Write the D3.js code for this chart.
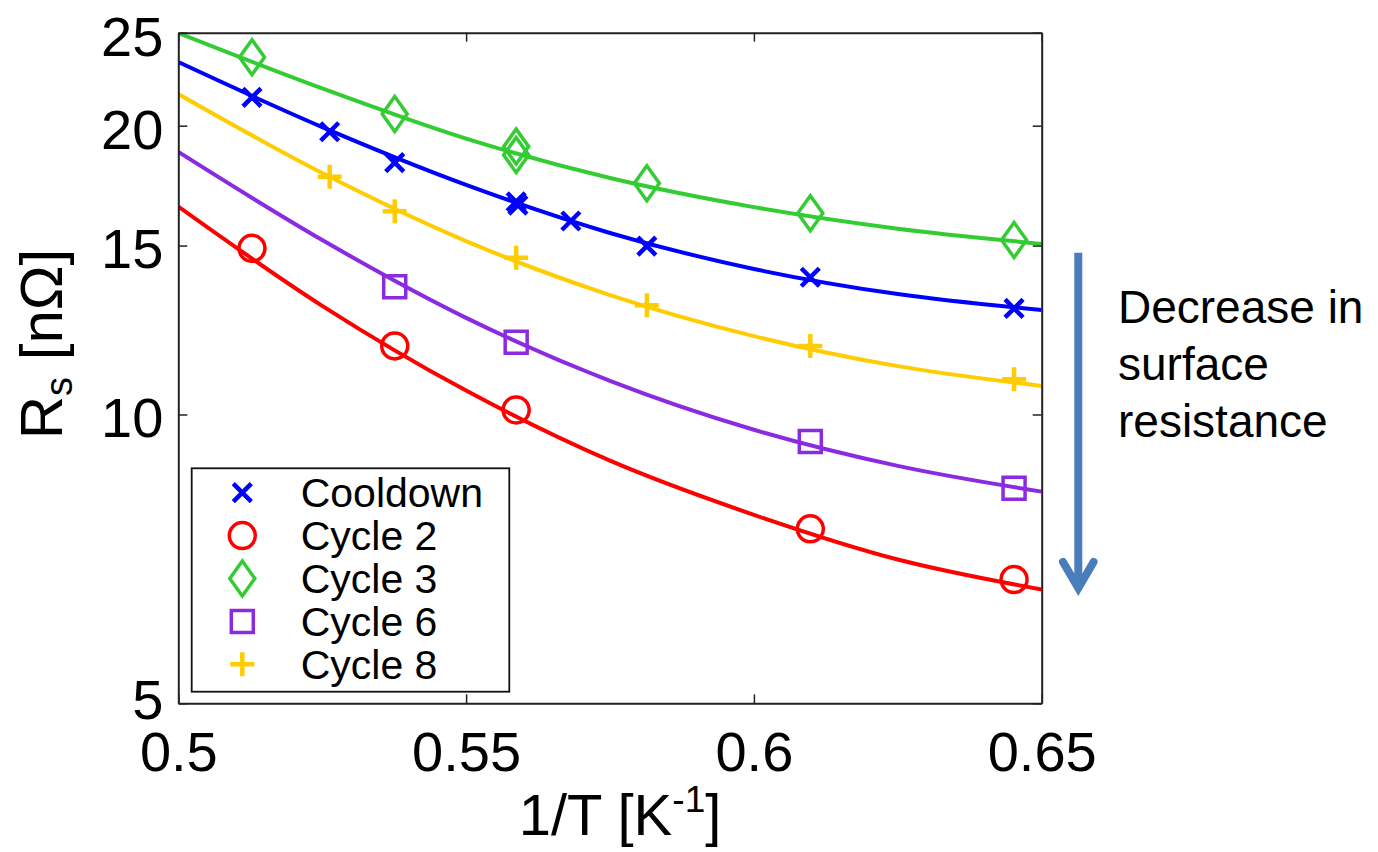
<!DOCTYPE html>
<html>
<head>
<meta charset="utf-8">
<script src="https://cdn.jsdelivr.net/npm/d3@7"></script>
<style>
  html, body { margin: 0; padding: 0; background: #fff; }
  svg { display: block; }
  text { font-family: "Liberation Sans", Arial, Helvetica, sans-serif; fill: #000; }
</style>
</head>
<body>
<svg id="chart" width="1378" height="852"></svg>
<script>
// ---------------- data ----------------
const xTicks = [0.5, 0.55, 0.6, 0.65];
const yTicks = [5, 10, 15, 20, 25];

// fitted curves
const fitX        = [0.5, 0.525, 0.55, 0.575, 0.6, 0.625, 0.65];
const fitCooldown = [23.30, 19.93, 17.35, 15.46, 14.18, 13.35, 12.85];
const fitCycle2   = [16.47, 12.98, 10.59, 8.95, 7.86, 7.06, 6.57];
const fitCycle3   = [24.98, 21.87, 19.39, 17.64, 16.45, 15.62, 15.06];
const fitCycle6   = [18.78, 15.20, 12.61, 10.84, 9.64, 8.84, 8.31];
const fitCycle8   = [21.58, 17.85, 15.16, 13.32, 12.07, 11.23, 10.71];

// measured points (1/T in 1/K, Rs in nOhm)
const cooldownX = [0.5128, 0.5263, 0.5376, 0.5587, 0.5590, 0.5682, 0.5814, 0.6098, 0.6452];
const cooldownY = [21.41, 19.71, 18.30, 16.66, 16.53, 15.91, 14.98, 13.90, 12.90];
const cycle2X = [0.5128, 0.5376, 0.5587, 0.6098, 0.6452];
const cycle2Y = [14.90, 11.79, 10.11, 7.60, 6.73];
const cycle3X = [0.5128, 0.5376, 0.5587, 0.5587, 0.5814, 0.6098, 0.6452];
const cycle3Y = [23.57, 20.57, 19.02, 18.64, 17.42, 16.21, 15.20];
const cycle6X = [0.5376, 0.5587, 0.6098, 0.6452];
const cycle6Y = [13.59, 11.89, 9.37, 8.38];
const cycle8X = [0.5263, 0.5376, 0.5587, 0.5814, 0.6098, 0.6452];
const cycle8Y = [17.69, 16.29, 14.57, 13.00, 11.79, 10.88];

const seriesNames = ["Cooldown", "Cycle 2", "Cycle 3", "Cycle 6", "Cycle 8"];
const seriesColors = ["#0000ff", "#ff0000", "#33cc33", "#8a2be2", "#ffcc00"];
const seriesMarkers = ["x", "circle", "diamond", "square", "plus"];

const annotationLines = ["Decrease in", "surface", "resistance"];

// ---------------- layout ----------------
const svg = d3.select("#chart");
const L = 178.3, R = 1041.7, T = 32.7, B = 703.3;

const x = d3.scaleLinear().domain([0.5, 0.65]).range([L, R]);
const y = d3.scaleLog().domain([5, 25]).range([B, T]);

svg.append("rect").attr("width", 1378).attr("height", 852).attr("fill", "#fff");

svg.append("defs").append("clipPath").attr("id", "plotclip")
  .append("rect").attr("x", L).attr("y", T).attr("width", R - L).attr("height", B - T);

const series = [
  { fit: fitCooldown, px: cooldownX, py: cooldownY },
  { fit: fitCycle2, px: cycle2X, py: cycle2Y },
  { fit: fitCycle3, px: cycle3X, py: cycle3Y },
  { fit: fitCycle6, px: cycle6X, py: cycle6Y },
  { fit: fitCycle8, px: cycle8X, py: cycle8Y }
].map((s, i) => Object.assign(s, { name: seriesNames[i], color: seriesColors[i], marker: seriesMarkers[i] }));

// lines
const line = d3.line().x(d => x(d[0])).y(d => y(d[1])).curve(d3.curveMonotoneX);
const gLines = svg.append("g").attr("clip-path", "url(#plotclip)");
series.forEach(s => {
  gLines.append("path")
    .attr("d", line(fitX.map((v, i) => [v, s.fit[i]])))
    .attr("fill", "none").attr("stroke", s.color).attr("stroke-width", 4);
});

function markerPath(type) {
  switch (type) {
    case "x": { const a = 9; return `M${-a},${-a}L${a},${a}M${-a},${a}L${a},${-a}`; }
    case "plus": { const a = 12; return `M${-a},0L${a},0M0,${-a}L0,${a}`; }
    case "diamond": { const w = 12.5, h = 17.5; return `M0,${-h}L${w},0L0,${h}L${-w},0Z`; }
    case "square": { const a = 11; return `M${-a},${-a}H${a}V${a}H${-a}Z`; }
    case "circle": { const r = 13; return `M${r},0A${r},${r} 0 1,1 ${-r},0A${r},${r} 0 1,1 ${r},0Z`; }
  }
}
function drawMarker(g, type, color, cx, cy) {
  g.append("path")
    .attr("d", markerPath(type))
    .attr("transform", `translate(${cx},${cy})`)
    .attr("fill", "none")
    .attr("stroke", color)
    .attr("stroke-width", (type === "x" || type === "plus") ? 4.5 : 3.5);
}

const gPts = svg.append("g");
series.forEach(s => {
  s.px.forEach((v, i) => drawMarker(gPts, s.marker, s.color, x(v), y(s.py[i])));
});

// ---------------- axes ----------------
const axisColor = "#222";
const fmtX = d => String(d);

const gxB = svg.append("g").attr("transform", `translate(0,${B})`)
  .call(d3.axisBottom(x).tickValues(xTicks).tickFormat(fmtX).tickSizeInner(-9).tickSizeOuter(0).tickPadding(28));
const gxT = svg.append("g").attr("transform", `translate(0,${T})`)
  .call(d3.axisTop(x).tickValues(xTicks).tickFormat("").tickSizeInner(-9).tickSizeOuter(0));
const gyL = svg.append("g").attr("transform", `translate(${L},0)`)
  .call(d3.axisLeft(y).tickValues(yTicks).tickFormat(d3.format("d")).tickSizeInner(-9).tickSizeOuter(0).tickPadding(15));
const gyR = svg.append("g").attr("transform", `translate(${R},0)`)
  .call(d3.axisRight(y).tickValues(yTicks).tickFormat("").tickSizeInner(-9).tickSizeOuter(0));

[gxB, gxT, gyL, gyR].forEach(g => {
  g.select(".domain").attr("stroke", axisColor).attr("stroke-width", 2);
  g.selectAll(".tick line").attr("stroke", axisColor).attr("stroke-width", 1.5);
  g.selectAll("text").attr("fill", "#000")
    .style("font-family", '"Liberation Sans", Arial, Helvetica, sans-serif')
    .style("font-size", "56px");
});
gyL.selectAll(".tick text").attr("dy", d => d === 5 ? "0.28em" : "0.4em");

// axis labels
const xl = svg.append("text")
  .attr("x", 620).attr("y", 835).attr("text-anchor", "middle")
  .style("font-size", "58px");
xl.append("tspan").text("1/T [K");
xl.append("tspan").text("-1").attr("dy", -23).style("font-size", "37px");
xl.append("tspan").text("]").attr("dy", 23);

const yl = svg.append("text")
  .attr("transform", "translate(62,344) rotate(-90)")
  .attr("text-anchor", "middle")
  .style("font-size", "60px");
yl.append("tspan").text("R");
yl.append("tspan").text("s").attr("dy", 10).style("font-size", "38px");
yl.append("tspan").text(" [nΩ]").attr("dy", -10);

// ---------------- legend ----------------
const lg = svg.append("g");
lg.append("rect")
  .attr("x", 191.7).attr("y", 468.3).attr("width", 317.6).attr("height", 223.4)
  .attr("fill", "#fff").attr("stroke", "#111").attr("stroke-width", 1.8);
const rowY = d3.scalePoint().domain(seriesNames).range([492.7, 664.3]);
series.forEach(s => {
  drawMarker(lg, s.marker, s.color, 242.3, rowY(s.name));
  lg.append("text").attr("x", 300.7).attr("y", rowY(s.name) + 14.7)
    .style("font-size", "41px").text(s.name);
});

// ---------------- annotation ----------------
const arrowColor = "#4a7ebb";
svg.append("line")
  .attr("x1", 1078.3).attr("y1", 252.7).attr("x2", 1078.3).attr("y2", 586)
  .attr("stroke", arrowColor).attr("stroke-width", 8);
svg.append("path")
  .attr("d", "M1063,562L1078.3,588L1093.6,562")
  .attr("fill", "none").attr("stroke", arrowColor).attr("stroke-width", 8)
  .attr("stroke-linecap", "round").attr("stroke-linejoin", "miter");

const ann = svg.append("text").style("font-size", "46px");
annotationLines.forEach((t, i) => {
  ann.append("tspan").attr("x", 1118).attr("y", 322.7 + i * 57).text(t);
});
</script>
